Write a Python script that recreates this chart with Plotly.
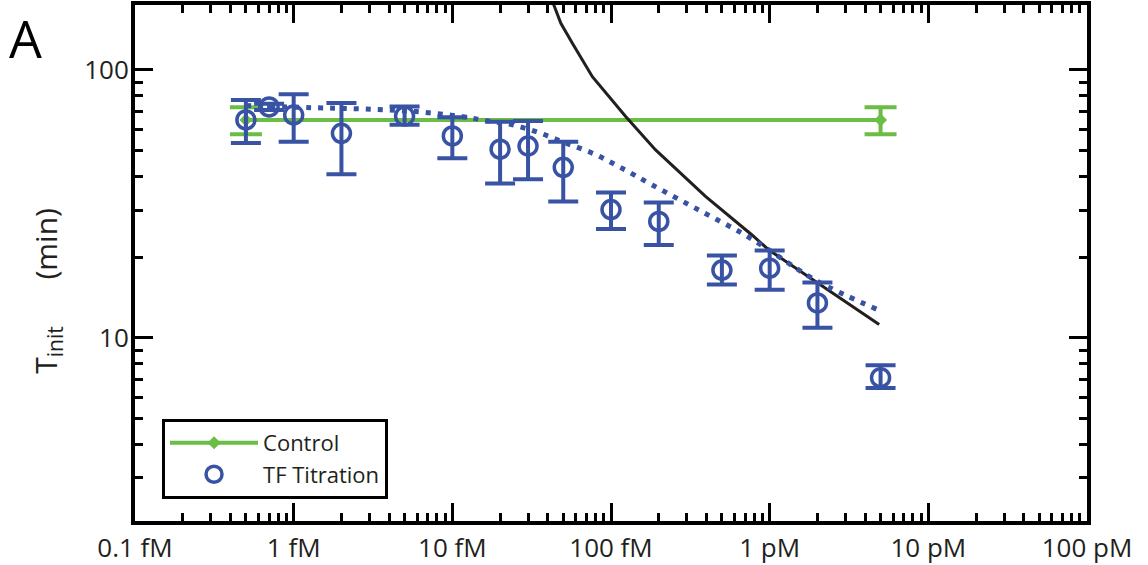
import plotly.graph_objects as go

# ---- data (concentration in fM, Tinit in min) ----
conc_fM = [0.5, 0.7, 1, 2, 5, 10, 20, 30, 50, 100, 200, 500, 1000, 2000, 5000]
tinit = [65.1, 72.8, 67.9, 58.0, 67.3, 56.7, 50.6, 52.0, 43.3, 30.1, 27.2, 17.9, 18.2, 13.5, 7.1]
tinit_upper = [77.3, 74.8, 81.2, 75.2, 73.0, 66.6, 64.1, 64.5, 54.0, 34.9, 32.0, 20.3, 21.2, 16.1, 7.9]
tinit_lower = [53.4, 70.8, 54.0, 40.8, 62.4, 46.8, 37.7, 39.1, 32.3, 25.5, 22.2, 15.8, 15.1, 10.9, 6.5]

control_conc = [0.5, 5000]
control_tinit = [65.1, 65.1]
control_upper = [72.6, 72.6]
control_lower = [57.5, 57.5]

fit_conc = [0.5, 1.32, 2.72, 5.9, 11.6, 16.3, 23.9, 35.2, 51.9, 76.3, 112, 182, 373, 667, 986, 1945, 4850]
fit_tinit = [73.6, 72.3, 71.5, 69.9, 66.9, 64.7, 62.4, 58.3, 53.3, 48.9, 43.6, 37.2, 29.6, 24.6, 21.3, 16.4, 12.7]

model_conc = [40, 48.3, 57.1, 76.3, 123.7, 191, 394, 774, 986, 1938, 4900]
model_tinit = [200, 149.3, 125.8, 94.4, 67.0, 50.3, 33.7, 24.2, 21.3, 16.2, 11.2]

x_tickvals = [0.1, 1, 10, 100, 1000, 10000, 100000]
x_ticktext = ["0.1 fM", "1 fM", "10 fM", "100 fM", "1 pM", "10 pM", "100 pM"]
x_minor = [m * d for d in [0.1, 1, 10, 100, 1000, 10000] for m in range(2, 10)]
y_tickvals = [10, 100]
y_ticktext = ["10", "100"]
y_minor = [m * d for d in [1, 10] for m in range(2, 10)]

BLUE = "#3953A4"
GREEN = "#6ABD45"
BLACK = "#231F20"
FONT = "Open Sans"

fig = go.Figure()

fig.add_trace(go.Scatter(
    x=control_conc, y=control_tinit, mode="lines+markers", name="Control",
    line=dict(color=GREEN, width=4),
    marker=dict(symbol="diamond", size=10, color=GREEN),
    error_y=dict(type="data", symmetric=False,
                 array=[u - v for u, v in zip(control_upper, control_tinit)],
                 arrayminus=[v - l for v, l in zip(control_tinit, control_lower)],
                 color=GREEN, thickness=4, width=16),
))

fig.add_trace(go.Scatter(
    x=model_conc, y=model_tinit, mode="lines", showlegend=False,
    line=dict(color=BLACK, width=3),
))

fig.add_trace(go.Scatter(
    x=fit_conc, y=fit_tinit, mode="lines", showlegend=False,
    line=dict(color=BLUE, width=5, dash="5px,7px", shape="spline"),
))

fig.add_trace(go.Scatter(
    x=conc_fM, y=tinit, mode="markers", name="TF Titration",
    marker=dict(symbol="circle-open", size=18, color=BLUE, line=dict(width=3.5, color=BLUE)),
    error_y=dict(type="data", symmetric=False,
                 array=[u - v for u, v in zip(tinit_upper, tinit)],
                 arrayminus=[v - l for v, l in zip(tinit, tinit_lower)],
                 color=BLUE, thickness=4, width=15),
))

axis_common = dict(
    type="log", showline=True, linecolor="black", linewidth=4, mirror="ticks",
    ticks="inside", ticklen=18, tickwidth=3, tickcolor="black",
    showgrid=False, zeroline=False, tickmode="array", automargin=False,
    tickfont=dict(family=FONT, size=26, color="#231F20"),
)

fig.update_xaxes(**axis_common, range=[-1, 5], tickvals=x_tickvals, ticktext=x_ticktext,
                 ticklabelstandoff=1,
                 minor=dict(tickmode="array", tickvals=x_minor, ticks="inside",
                            ticklen=8, tickwidth=3, tickcolor="black", showgrid=False))
fig.update_yaxes(**axis_common, range=[0.316, 2.2425], tickvals=y_tickvals, ticktext=y_ticktext,
                 ticklabelstandoff=-3,
                 minor=dict(tickmode="array", tickvals=y_minor, ticks="inside",
                            ticklen=8, tickwidth=3, tickcolor="black", showgrid=False))

fig.add_annotation(text="A", xref="paper", yref="paper", x=-0.115, y=1 + 5 / 516,
                   showarrow=False, xanchor="center", yanchor="top",
                   font=dict(family=FONT, size=52, color="black"))
fig.add_annotation(text="T<sub>init</sub>" + "&nbsp;" * 6 + "(min)", xref="paper", yref="paper",
                   x=-0.092, y=0.447, textangle=-90, showarrow=False,
                   xanchor="center", yanchor="middle",
                   font=dict(family=FONT, size=30, color="#231F20"))

fig.update_layout(
    width=1148, height=565,
    margin=dict(l=135, r=61, t=5, b=44),
    plot_bgcolor="white", paper_bgcolor="white",
    font=dict(family=FONT, color="#231F20"),
    legend=dict(x=0.0284, y=0.198, xanchor="left", yanchor="top",
                bordercolor="black", borderwidth=3, bgcolor="white",
                font=dict(family=FONT, size=22, color="#231F20"),
                itemwidth=88),
)

fig.write_html("out.html", config={"displayModeBar": False},
               post_script="document.body.style.margin='0';")
